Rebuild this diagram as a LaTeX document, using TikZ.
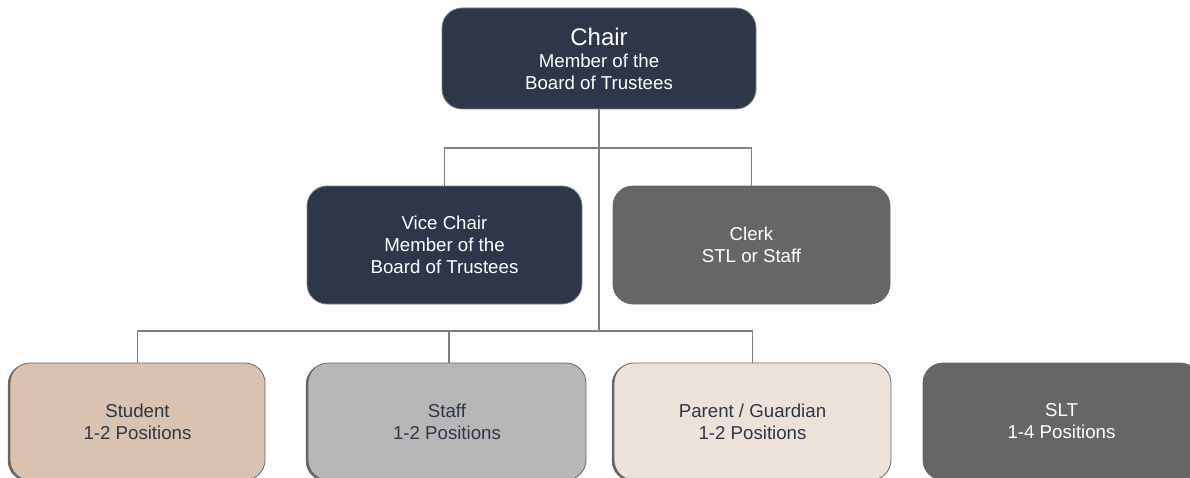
\documentclass[tikz,border=0pt]{standalone}
\usepackage{fontspec}
\setmainfont{Liberation Sans}
\usetikzlibrary{shadows}
\definecolor{BoardNavy}{RGB}{46, 54, 73}
\definecolor{ClerkGrey}{RGB}{102, 102, 102}
\definecolor{StudentTan}{RGB}{217, 195, 176}
\definecolor{StaffGrey}{RGB}{183, 183, 183}
\definecolor{ParentSand}{RGB}{237, 226, 218}
\definecolor{LinkGrey}{RGB}{128, 128, 128}
\newcommand{\lw}{0.9pt}
\newcommand{\bodysize}{\fontsize{14}{16.5}\selectfont}

\begin{document}
\begin{tikzpicture}[x=0.75pt, y=-0.75pt,
    role/.style={rounded corners=15pt, draw=LinkGrey, line width=0.6pt,
      align=center, inner sep=0pt, font=\bodysize},
    darkrole/.style={role, fill=BoardNavy, text=white},
    greyrole/.style={role, fill=ClerkGrey, draw=ClerkGrey, text=white},
    lightrole/.style={role, draw=ClerkGrey, text=BoardNavy,
      drop shadow={shadow xshift=-1.6pt, shadow yshift=-0.8pt, fill=ClerkGrey, opacity=1}},
    link/.style={draw=LinkGrey, line width=\lw}]
  \useasboundingbox (0,0) rectangle (1190,478);

  \node[darkrole, minimum width=235.5pt, minimum height=75.75pt] (chair) at (599, 58.5)
    {{\fontsize{18}{18.75}\selectfont Chair}\\Member of the\\Board of Trustees};
  \node[darkrole, minimum width=206.25pt, minimum height=88.5pt] (vice) at (444.5, 245)
    {Vice Chair\\Member of the\\Board of Trustees};
  \node[greyrole, minimum width=207.75pt, minimum height=88.5pt] (clerk) at (751.5, 245)
    {Clerk\\STL or Staff};

  \node[lightrole, fill=StudentTan, minimum width=191.25pt, minimum height=87.75pt] (student) at (137.5, 421.5)
    {Student\\1-2 Positions};
  \node[lightrole, fill=StaffGrey, minimum width=208.5pt, minimum height=87.75pt] (staff) at (447, 421.5)
    {Staff\\1-2 Positions};
  \node[lightrole, fill=ParentSand, minimum width=207.75pt, minimum height=87.75pt] (parent) at (752.5, 421.5)
    {Parent / Guardian\\1-2 Positions};
  \node[greyrole, minimum width=207.75pt, minimum height=87.75pt] (slt) at (1061.5, 421.5)
    {SLT\\1-4 Positions};

  % officer and member buses
  \coordinate (upperbus) at (599, 148);
  \coordinate (lowerbus) at (599, 331);
  \draw[link] (chair.south) -- (upperbus) -| (vice.north);
  \draw[link] (upperbus) -| (clerk.north);
  \draw[link] (upperbus) -- (lowerbus) -| (student.north);
  \draw[link] (lowerbus) -| ([xshift=1.5pt]staff.north);
  \draw[link] (lowerbus) -| (parent.north);
\end{tikzpicture}
\end{document}
